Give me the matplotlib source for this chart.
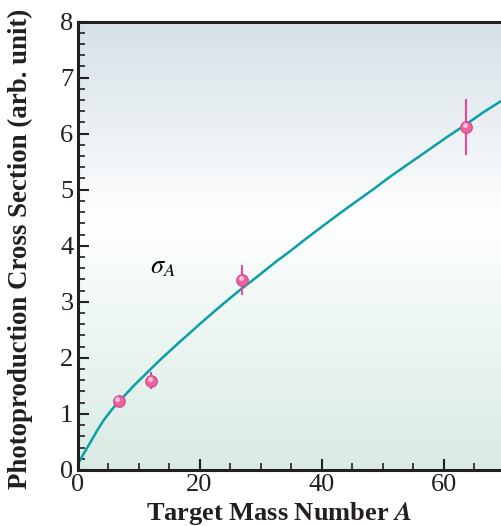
import numpy as np
import matplotlib
matplotlib.use('Agg')
import matplotlib.pyplot as plt
from matplotlib.colors import LinearSegmentedColormap
from matplotlib.ticker import MultipleLocator
import matplotlib.transforms as mtransforms

plt.rcParams['font.family'] = ['Liberation Serif', 'DejaVu Serif']
plt.rcParams['mathtext.fontset'] = 'stix'

# measured cross sections (mass number, value, error)
mass_number = [6.8, 12.1, 27.0, 63.7]
cross_section = [1.23, 1.59, 3.39, 6.12]
cross_error = [0.08, 0.15, 0.27, 0.50]

# fitted curve
curve_A = [0.3, 1.0, 2.1, 3.2, 4.3, 5.5, 6.75, 8.0, 9.2, 10.5, 11.9, 13.4,
           14.9, 16.4, 17.95, 19.9, 21.8, 23.4, 25.05, 27.2, 29.0, 30.5,
           32.7, 34.8, 37.5, 40.3, 43.0, 45.8, 48.5, 51.2, 54.5, 57.8,
           60.7, 63.6, 66.5, 69.4]
curve_sigma = [0.15, 0.29, 0.49, 0.70, 0.89, 1.06, 1.22, 1.36, 1.50, 1.64, 1.79, 1.95,
               2.10, 2.25, 2.40, 2.59, 2.77, 2.92, 3.07, 3.26, 3.41, 3.54,
               3.73, 3.90, 4.13, 4.36, 4.58, 4.80, 5.01, 5.23, 5.48, 5.73,
               5.95, 6.16, 6.38, 6.58]

fig = plt.figure(figsize=(5.01, 5.26), dpi=100)
ax = fig.add_axes([0.1547, 0.1065, 0.8453, 0.8526])
xmax = 69.4
ax.set_xlim(0, xmax)
ax.set_ylim(0, 8)

# background gradient: blue-grey top, white middle, pale green bottom
bg = LinearSegmentedColormap.from_list('bg', [
    (0.0, (0.85, 0.922, 0.892)),
    (0.45, (0.965, 0.985, 0.975)),
    (0.55, (1.0, 1.0, 1.0)),
    (1.0, (0.835, 0.88, 0.905)),
])
grad = np.linspace(0, 1, 256).reshape(-1, 1)
ax.imshow(grad, cmap=bg, origin='lower', aspect='auto',
          extent=[0, xmax, 0, 8], zorder=0)

ax.plot(curve_A, curve_sigma, color='#0a9ea6', lw=1.8, zorder=2,
        solid_joinstyle='round', solid_capstyle='round')

ax.errorbar(mass_number, cross_section, yerr=cross_error, fmt='none',
            ecolor='#e8479a', elinewidth=1.5, capsize=0, zorder=3)
ax.plot(mass_number, cross_section, 'o', ms=8.4, mfc='#e9659f', mec='#d8458a',
        mew=0.8, zorder=4)
hl = ax.transData + mtransforms.ScaledTranslation(-1.2 / 72, 1.2 / 72, fig.dpi_scale_trans)
ax.plot(mass_number, cross_section, 'o', ms=3.5, mfc='#f8c6dc', mec='none',
        zorder=5, transform=hl)

ax.text(14.0, 3.6, r'$\sigma_A$', fontsize=19, ha='center', va='center')

ax.xaxis.set_major_locator(MultipleLocator(20))
ax.xaxis.set_minor_locator(MultipleLocator(5))
ax.yaxis.set_major_locator(MultipleLocator(1))
ax.yaxis.set_minor_locator(MultipleLocator(0.2))
ax.tick_params(which='both', direction='in', color='#231f20', labelsize=19,
               labelcolor='#231f20')
ax.tick_params(which='major', length=8, width=1.5, pad=3)
ax.tick_params(which='minor', length=5, width=1.2)

for side in ['left', 'bottom', 'top']:
    ax.spines[side].set_linewidth(2.2)
    ax.spines[side].set_color('#231f20')
ax.spines['right'].set_visible(False)

ax.set_xlabel(r'Target Mass Number $\boldsymbol{A}$', fontsize=19, fontweight='bold',
              color='#231f20')
ax.set_ylabel('Photoproduction Cross Section (arb. unit)', fontsize=19.4,
              fontweight='bold', color='#231f20')
ax.xaxis.set_label_coords(0.476, -0.067)
ax.yaxis.set_label_coords(-0.104, 0.493)

fig.savefig('out.png', dpi=100)
